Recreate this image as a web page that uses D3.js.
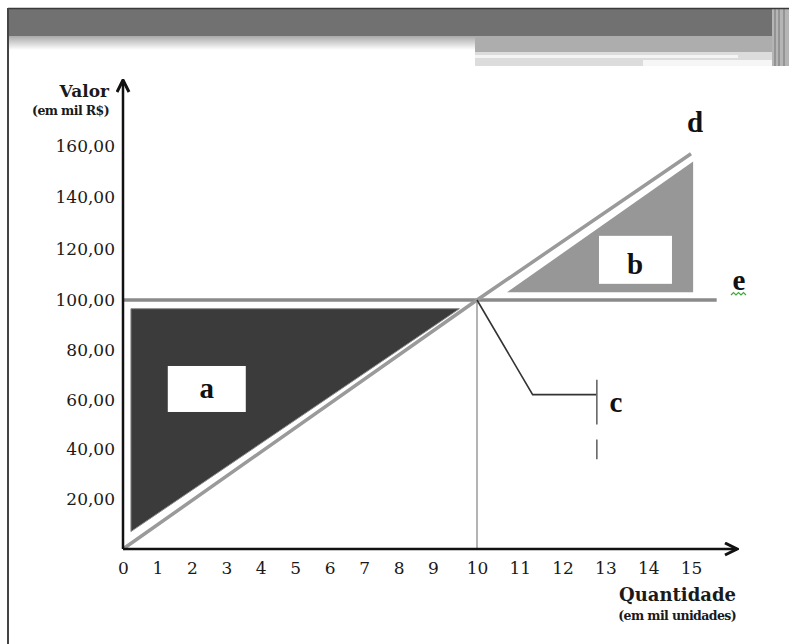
<!DOCTYPE html>
<html>
<head>
<meta charset="utf-8">
<script src="https://cdn.jsdelivr.net/npm/d3@7"></script>
<style>
  body { margin: 0; background: #fff; }
  svg text { font-family: "DejaVu Serif", "Liberation Serif", serif; fill: #1a1a1a; }
  .tick-label { font-size: 17px; }
  .axis-title { font-weight: bold; }
  .letter { font-family: "Liberation Serif", serif; font-weight: bold; font-size: 29px; fill: #111; }
</style>
</head>
<body>
<div id="chart-area"></div>
<script>
// data (quantity in thousand units, value in thousand R$)
const qtyTicks = [0, 1, 2, 3, 4, 5, 6, 7, 8, 9, 10, 11, 12, 13, 14, 15]
const valueTicks = [20, 40, 60, 80, 100, 120, 140, 160]
const valueTickLabels = ["20,00", "40,00", "60,00", "80,00", "100,00", "120,00", "140,00", "160,00"]

// line d (revenue) and line e (fixed value)
const dQty = [0, 10, 15]
const dValue = [0, 100, 157]
const eQty = [0, 15.6]
const eValue = [100, 100]

// shaded areas a and b
const aQty = [0.23, 9.6, 0.23]
const aValue = [96.5, 96.5, 7]
const bQty = [10.7, 15.05, 15.05]
const bValue = [103, 103, 154]

// break-even point and the c callout
const breakEvenQty = 10
const cCalloutQty = [10, 11.3, 12.8]
const cCalloutValue = [100, 62, 62]

const WIDTH = 789
const HEIGHT = 644

const svg = d3.select("#chart-area").append("svg")
  .attr("width", WIDTH)
  .attr("height", HEIGHT)

// slide frame / banner
const defs = svg.append("defs")
const grad = defs.append("linearGradient").attr("id", "fade").attr("x1", 0).attr("x2", 0).attr("y1", 0).attr("y2", 1)
grad.append("stop").attr("offset", "0%").attr("stop-color", "#a9a9a9")
grad.append("stop").attr("offset", "100%").attr("stop-color", "#ffffff")

svg.append("rect").attr("x", 8).attr("y", 36).attr("width", 781).attr("height", 14).attr("fill", "url(#fade)")
svg.append("rect").attr("x", 475).attr("y", 36).attr("width", 300).attr("height", 16).attr("fill", "#adadad")
svg.append("rect").attr("x", 475).attr("y", 52).attr("width", 300).attr("height", 14).attr("fill", "#dcdcdc")
svg.append("rect").attr("x", 475).attr("y", 55).attr("width", 263).attr("height", 3).attr("fill", "#f4f4f4")
svg.append("rect").attr("x", 643).attr("y", 60).attr("width", 132).attr("height", 6).attr("fill", "#f6f6f6")
svg.append("rect").attr("x", 8).attr("y", 9).attr("width", 781).attr("height", 27).attr("fill", "#717171")
svg.append("rect").attr("x", 772).attr("y", 9).attr("width", 17).attr("height", 57).attr("fill", "#b5b5b5")
;[775, 779, 784].forEach(x => {
  svg.append("line").attr("x1", x).attr("x2", x).attr("y1", 9).attr("y2", 66)
    .attr("stroke", "#8a8a8a").attr("stroke-width", 1.5)
})
svg.append("line").attr("x1", 8).attr("x2", 789).attr("y1", 8.5).attr("y2", 8.5).attr("stroke", "#3a3a3a").attr("stroke-width", 1.5)
svg.append("line").attr("x1", 8).attr("x2", 8).attr("y1", 8).attr("y2", HEIGHT).attr("stroke", "#444").attr("stroke-width", 2)

// scales (tick spacing in the picture is uneven, so piecewise)
const x = d3.scaleLinear().domain([0, 9, 10, 15]).range([123, 433, 477, 691])
const y = d3.scaleLinear().domain([0, 100, 160]).range([549, 300, 146])

const g = svg.append("g")

// shaded area a
g.append("path")
  .attr("d", d3.line()(aQty.map((q, i) => [x(q), y(aValue[i])])) + "Z")
  .attr("fill", "#3b3b3b")
  .attr("stroke", "#8a8a8a")
  .attr("stroke-width", 1)

// shaded area b
g.append("path")
  .attr("d", d3.line()(bQty.map((q, i) => [x(q), y(bValue[i])])) + "Z")
  .attr("fill", "#979797")

// vertical line at break-even
g.append("line")
  .attr("x1", x(breakEvenQty)).attr("x2", x(breakEvenQty))
  .attr("y1", y(100)).attr("y2", y(0))
  .attr("stroke", "#b3b3b3").attr("stroke-width", 2)

// line e
g.append("path")
  .attr("d", d3.line()(eQty.map((q, i) => [x(q), y(eValue[i])])))
  .attr("stroke", "#8a8a8a").attr("stroke-width", 3.5).attr("fill", "none")

// line d
g.append("path")
  .attr("d", d3.line()(dQty.map((q, i) => [x(q), y(dValue[i])])))
  .attr("stroke", "#9a9a9a").attr("stroke-width", 3.5).attr("fill", "none")

// callout c
g.append("path")
  .attr("d", d3.line()(cCalloutQty.map((q, i) => [x(q), y(cCalloutValue[i])])))
  .attr("stroke", "#333").attr("stroke-width", 1.6).attr("fill", "none")
g.append("line")
  .attr("x1", x(12.8)).attr("x2", x(12.8)).attr("y1", y(68)).attr("y2", y(50))
  .attr("stroke", "#666").attr("stroke-width", 1.6)
g.append("line")
  .attr("x1", x(12.8)).attr("x2", x(12.8)).attr("y1", y(44)).attr("y2", y(36))
  .attr("stroke", "#666").attr("stroke-width", 1.6)

// label boxes
g.append("rect").attr("x", x(1.3)).attr("y", y(73.5)).attr("width", 78).attr("height", 46).attr("fill", "#fff")
g.append("rect").attr("x", x(12.85)).attr("y", y(125)).attr("width", 73).attr("height", 48).attr("fill", "#fff")

g.append("text").attr("class", "letter").attr("x", x(1.3) + 39).attr("y", y(73.5) + 32).attr("text-anchor", "middle").text("a")
g.append("text").attr("class", "letter").attr("x", x(12.85) + 36).attr("y", y(125) + 38).attr("text-anchor", "middle").text("b")
g.append("text").attr("class", "letter").attr("x", 616).attr("y", 412).attr("text-anchor", "middle").text("c")
g.append("text").attr("class", "letter").attr("x", 695).attr("y", 132).attr("text-anchor", "middle").text("d")
g.append("text").attr("class", "letter").attr("x", 739).attr("y", 290).attr("text-anchor", "middle").text("e")

// spell-check squiggle under e
g.append("path")
  .attr("d", "M731,295 l2.5,-2.5 l2.5,2.5 l2.5,-2.5 l2.5,2.5 l2.5,-2.5 l2.5,2.5")
  .attr("stroke", "#3cab3c").attr("stroke-width", 1.2).attr("fill", "none")

// axes with arrowheads
defs.append("marker")
  .attr("id", "arrow").attr("viewBox", "0 0 10 10").attr("refX", 9).attr("refY", 5)
  .attr("markerWidth", 6).attr("markerHeight", 6).attr("orient", "auto")
  .append("path").attr("d", "M1,1 L9,5 L1,9").attr("fill", "none").attr("stroke", "#111").attr("stroke-width", 2)

g.append("line")
  .attr("x1", x(0)).attr("x2", 737).attr("y1", y(0)).attr("y2", y(0))
  .attr("stroke", "#111").attr("stroke-width", 2.5).attr("marker-end", "url(#arrow)")
g.append("line")
  .attr("x1", x(0)).attr("x2", x(0)).attr("y1", y(0)).attr("y2", 80)
  .attr("stroke", "#111").attr("stroke-width", 2.5).attr("marker-end", "url(#arrow)")

// tick labels
const xAxis = g.append("g")
  .attr("transform", `translate(0, ${y(0)})`)
  .call(d3.axisBottom(x).tickValues(qtyTicks).tickSize(0).tickPadding(13).tickFormat(d3.format("d")))
xAxis.select(".domain").remove()
xAxis.selectAll("text").attr("class", "tick-label").attr("font-family", null).attr("font-size", null).attr("fill", "#1a1a1a")

const yAxis = g.append("g")
  .attr("transform", `translate(${x(0) - 8}, 0)`)
  .call(d3.axisLeft(y).tickValues(valueTicks).tickSize(0).tickPadding(0)
    .tickFormat((d, i) => valueTickLabels[i]))
yAxis.select(".domain").remove()
yAxis.selectAll("text").attr("class", "tick-label").attr("font-family", null).attr("font-size", null).attr("fill", "#1a1a1a")

// axis titles
g.append("text").attr("class", "axis-title").attr("x", 109).attr("y", 97).attr("text-anchor", "end")
  .attr("font-size", 17).text("Valor")
g.append("text").attr("class", "axis-title").attr("x", 109).attr("y", 115).attr("text-anchor", "end")
  .attr("font-size", 12.5).attr("letter-spacing", -0.6).text("(em mil R$)")
g.append("text").attr("class", "axis-title").attr("x", 736).attr("y", 601).attr("text-anchor", "end")
  .attr("font-size", 18).text("Quantidade")
g.append("text").attr("class", "axis-title").attr("x", 736).attr("y", 620).attr("text-anchor", "end")
  .attr("font-size", 12.5).attr("letter-spacing", -0.6).text("(em mil unidades)")
</script>
</body>
</html>
